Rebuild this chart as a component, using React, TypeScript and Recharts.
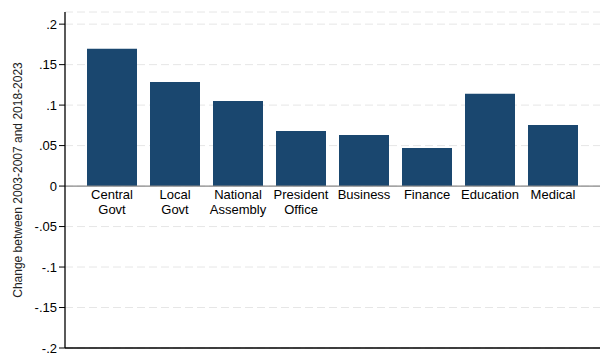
import {
    BarChart,
    Bar,
    CartesianGrid,
    XAxis,
    YAxis,
    ReferenceLine,
    LabelList
} from "recharts";

// categories, two-line labels as drawn under the zero line
const categories = [
    "Central\nGovt",
    "Local\nGovt",
    "National\nAssembly",
    "President\nOffice",
    "Business",
    "Finance",
    "Education",
    "Medical"
];

const changes = [0.1695, 0.1285, 0.105, 0.068, 0.063, 0.047, 0.114, 0.0755];

const yTicks = [-0.2, -0.15, -0.1, -0.05, 0, 0.05, 0.1, 0.15, 0.2];

const font = "'Liberation Sans', Arial, sans-serif";

// stata style: .15 / -.05
const fmt = (v: number) => {
    if (v === 0) return "0";
    return String(Number(v.toFixed(2))).replace("0.", ".");
};

const CatLabel = (props: any) => {
    const { x, y, width, height, value } = props;
    const cx = x + width / 2;
    const base = y + height; // bottom of bar = zero line
    const lines = String(value).split("\n");
    return (
        <text x={cx} y={base} textAnchor="middle" fontSize={13} fontFamily={font} fill="#000">
            {lines.map((l, i) => (
                <tspan key={i} x={cx} dy={i === 0 ? 13 : 15}>{l}</tspan>
            ))}
        </text>
    );
};

export default function App() {
    const data = categories.map((c, i) => ({ name: c, value: changes[i] }));

    return (
        <div style={{ position: "absolute", left: 0, top: 0, background: "#fff" }}>
            <BarChart
                width={608}
                height={364}
                data={data}
                margin={{ top: 12, right: 8, left: 15, bottom: 6 }}
                barSize={50}
            >
                <CartesianGrid vertical={false} stroke="#e6e6e6" strokeDasharray="8 4" />
                <XAxis
                    dataKey="name"
                    tick={false}
                    tickLine={false}
                    height={10}
                    axisLine={{ stroke: "#000", strokeWidth: 1.3 }}
                    padding={{ left: 15, right: 16 }}
                />
                <YAxis
                    domain={[-0.2, 0.215]}
                    ticks={yTicks}
                    tickFormatter={fmt}
                    width={50}
                    tickSize={6}
                    interval={0}
                    allowDataOverflow
                    axisLine={{ stroke: "#000", strokeWidth: 1.3 }}
                    tickLine={{ stroke: "#000" }}
                    tick={{ fontSize: 13, fontFamily: font, fill: "#000" }}
                    label={{
                        value: "Change between 2003-2007 and 2018-2023",
                        angle: -90,
                        position: "insideLeft",
                        offset: 3,
                        style: { textAnchor: "middle", fontSize: 12, fontFamily: font, fill: "#222" }
                    }}
                />
                <ReferenceLine y={0} stroke="#8a8a8a" strokeWidth={1.2} />
                <Bar dataKey="value" fill="#1a476f" isAnimationActive={false}>
                    <LabelList dataKey="name" content={<CatLabel />} />
                </Bar>
            </BarChart>
        </div>
    );
}
